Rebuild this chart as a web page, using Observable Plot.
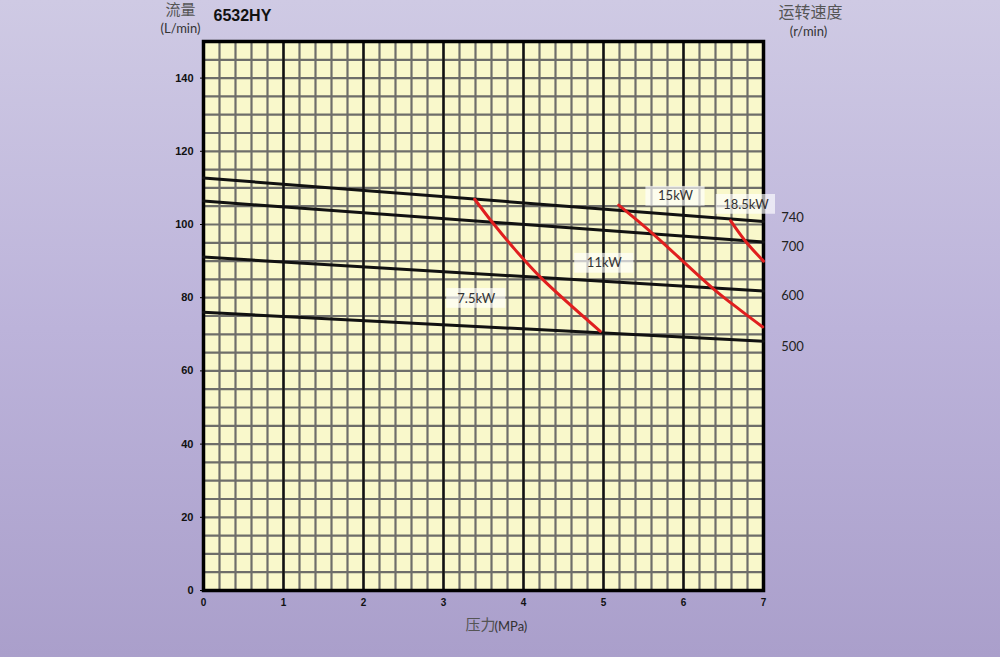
<!DOCTYPE html>
<html>
<head>
<meta charset="utf-8">
<script src="https://cdn.jsdelivr.net/npm/d3@7"></script>
<script src="https://cdn.jsdelivr.net/npm/@observablehq/plot@0.6"></script>
<style>
  html, body { margin: 0; padding: 0; }
  body { width: 1000px; height: 657px; overflow: hidden;
    background: linear-gradient(to bottom, #cfcae4 0%, #bcb3da 50%, #aa9fcb 100%); }
  #chart svg { display: block; }
</style>
</head>
<body>
<div id="chart"></div>
<script>
// ---- data ----
const xTicks = [0, 1, 2, 3, 4, 5, 6, 7];
const yTicks = [0, 20, 40, 60, 80, 100, 120, 140];
const xMinorStep = 0.2;
const yMinorStep = 5;

const speeds = ["740", "700", "600", "500"];
const speedAt0 = [112.7, 106.4, 91.1, 76.0];
const speedAt7 = [100.8, 95.2, 81.8, 68.1];
const speedLabelY = [101.7, 93.8, 80.4, 66.7];

const powerNames = ["7.5kW", "15kW", "18.5kW"];
const powerX = [
  [3.39, 3.61, 3.90, 4.23, 4.96],
  [5.19, 5.59, 6.37, 6.71, 6.99],
  [6.59, 6.78, 7.00]
];
const powerY = [
  [106.9, 100.6, 93.0, 85.2, 70.8],
  [105.3, 98.0, 82.5, 76.6, 72.0],
  [101.0, 95.3, 90.0]
];

const labelText = ["15kW", "18.5kW", "11kW", "7.5kW"];
const labelX = [5.90, 6.78, 5.01, 3.41];
const labelY = [107.7, 105.5, 89.4, 79.8];

// ---- tables ----
const speedLines = speeds.flatMap((s, i) => [
  {speed: s, x: 0, y: speedAt0[i]},
  {speed: s, x: 7, y: speedAt7[i]}
]);
const speedLabels = speeds.map((s, i) => ({speed: s, x: 7, y: speedLabelY[i]}));
const powerLines = powerNames.flatMap((p, i) => powerX[i].map((x, j) => ({power: p, x, y: powerY[i][j]})));
const labels = labelText.map((t, i) => ({t, x: labelX[i], y: labelY[i]}));

const xMinor = d3.range(0, 7 + 1e-9, xMinorStep);
const yMinor = d3.range(0, 150 + 1e-9, yMinorStep);

const latin = "Lato, 'Open Sans', sans-serif";
const cjk = "'Noto Sans CJK SC', sans-serif";
const mid = {textAnchor: "middle", lineAnchor: "middle"};

const chart = Plot.plot({
  width: 1000,
  height: 657,
  marginLeft: 203,
  marginRight: 237,
  marginTop: 41,
  marginBottom: 67,
  style: {background: "transparent", fontFamily: "'Liberation Sans', Arial, sans-serif", overflow: "visible"},
  x: {domain: [0, 7], ticks: xTicks, label: null},
  y: {domain: [0, 150], ticks: yTicks, label: null},
  marks: [
    Plot.frame({fill: "#f9f8cb"}),
    Plot.ruleX(xMinor, {stroke: "#6e6e6a", strokeWidth: 2.2}),
    Plot.ruleY(yMinor, {stroke: "#6e6e6a", strokeWidth: 2.2}),
    Plot.ruleX(xTicks, {stroke: "#111", strokeWidth: 2.4}),
    Plot.frame({stroke: "#000", strokeWidth: 3.5}),
    Plot.axisX({ticks: xTicks, tickFormat: d3.format("d"), tickSize: 0, tickPadding: 8, fontSize: 10, fontWeight: "bold", fill: "#111", label: null}),
    Plot.axisY({ticks: yTicks, tickFormat: d3.format("d"), tickSize: 3, tickPadding: 7, fontSize: 11, fontWeight: "bold", fill: "#111", label: null}),
    Plot.line(speedLines, {x: "x", y: "y", z: "speed", stroke: "#111", strokeWidth: 3}),
    Plot.line(powerLines, {x: "x", y: "y", z: "power", stroke: "#e01f1f", strokeWidth: 3, curve: "catmull-rom"}),
    Plot.rect(labels, {x1: d => d.x - 0.37, x2: d => d.x + 0.37, y1: d => d.y - 2.7, y2: d => d.y + 2.7, fill: "white", fillOpacity: 0.65}),
    Plot.text(labels, {x: "x", y: "y", text: "t", fontSize: 13, fontFamily: latin, fill: "#333"}),
    Plot.text(speedLabels, {x: "x", y: "y", text: "speed", dx: 29, fontSize: 13, fontFamily: latin, fill: "#222"}),
    // titles
    Plot.text(["6532HY"], {frameAnchor: "top-left", dx: 10, dy: -26, textAnchor: "start", lineAnchor: "middle", fontSize: 16, fontWeight: "bold", fill: "#111"}),
    Plot.text(["流量"], {frameAnchor: "top-left", dx: -23, dy: -31, ...mid, fontSize: 15, fontFamily: cjk, fill: "#555"}),
    Plot.text(["(L/min)"], {frameAnchor: "top-left", dx: -23, dy: -13, ...mid, fontSize: 13, fontFamily: latin, fill: "#333"}),
    Plot.text(["运转速度"], {frameAnchor: "top-right", dx: 47, dy: -29, ...mid, fontSize: 16, fontFamily: cjk, fill: "#555"}),
    Plot.text(["(r/min)"], {frameAnchor: "top-right", dx: 45, dy: -10, ...mid, fontSize: 13, fontFamily: latin, fill: "#333"}),
    Plot.text(["压力"], {frameAnchor: "bottom", dx: 12, dy: 35, textAnchor: "end", lineAnchor: "middle", fontSize: 15, fontFamily: cjk, fill: "#555"}),
    Plot.text(["(MPa)"], {frameAnchor: "bottom", dx: 11, dy: 36, textAnchor: "start", lineAnchor: "middle", fontSize: 13, fontFamily: latin, fill: "#333"})
  ]
});
document.getElementById("chart").appendChild(chart);
</script>
</body>
</html>
